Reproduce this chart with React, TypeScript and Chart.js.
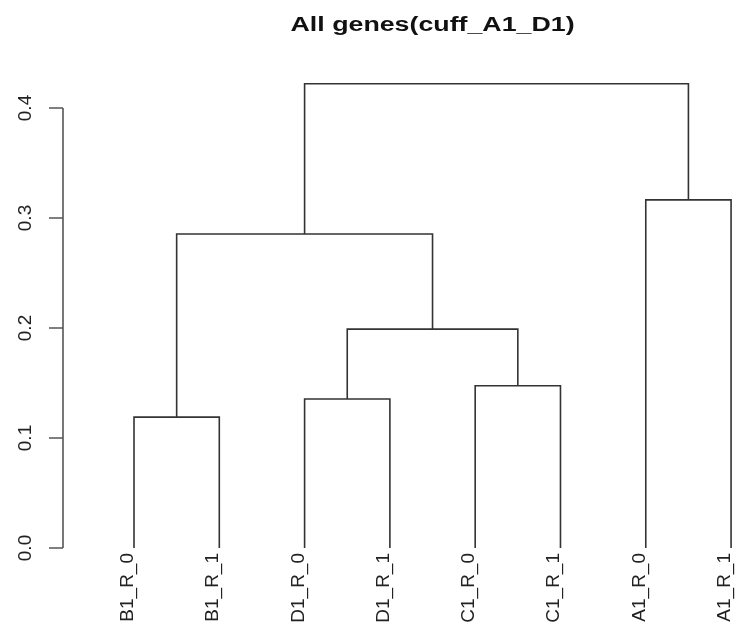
import React, { useEffect, useRef } from "react";
import { Chart, registerables } from "chart.js";

Chart.register(...registerables);

// Leaf order along the bottom of the dendrogram
const leafLabels = ["B1_R_0", "B1_R_1", "D1_R_0", "D1_R_1", "C1_R_0", "C1_R_1", "A1_R_0", "A1_R_1"];

// Merge steps, hclust style: negative = leaf index (1-based), positive = earlier merge step
const mergeLeft = [-1, -3, -5, 2, 1, -7, 5];
const mergeRight = [-2, -4, -6, 3, 4, -8, 6];
const mergeHeight = [0.119, 0.1355, 0.1475, 0.199, 0.2855, 0.3165, 0.422];

// Height axis ticks
const yTicks = [0, 0.1, 0.2, 0.3, 0.4];
const yTickLabels = ["0.0", "0.1", "0.2", "0.3", "0.4"];

const chartTitle = "All genes(cuff_A1_D1)";

const FONT = "'Liberation Sans', Arial, Helvetica, sans-serif";

type Node = { x: number; h: number };

function nodeOf(ref: number, built: Node[]): Node {
  if (ref < 0) return { x: -ref, h: 0 };
  return built[ref - 1];
}

function buildSegments() {
  const built: Node[] = [];
  const datasets: any[] = [];
  for (let i = 0; i < mergeHeight.length; i++) {
    const l = nodeOf(mergeLeft[i], built);
    const r = nodeOf(mergeRight[i], built);
    const h = mergeHeight[i];
    built.push({ x: (l.x + r.x) / 2, h });
    datasets.push({
      data: [
        { x: l.x, y: l.h },
        { x: l.x, y: h },
        { x: r.x, y: h },
        { x: r.x, y: r.h },
      ],
      showLine: true,
      borderColor: "#333333",
      borderWidth: 1.6,
      pointRadius: 0,
      pointHoverRadius: 0,
      tension: 0,
      fill: false,
    });
  }
  return datasets;
}

const annotate = {
  id: "dendroAnnotate",
  afterDraw(chart: any) {
    const ctx = chart.ctx as CanvasRenderingContext2D;
    const xs = chart.scales.x;
    const ys = chart.scales.y;
    const axisX = chart.chartArea.left;

    ctx.save();
    // Height axis: line spans first to last tick, ticks point outward
    ctx.strokeStyle = "#555555";
    ctx.lineWidth = 1.6;
    ctx.beginPath();
    ctx.moveTo(axisX, ys.getPixelForValue(yTicks[0]));
    ctx.lineTo(axisX, ys.getPixelForValue(yTicks[yTicks.length - 1]));
    for (const t of yTicks) {
      const py = ys.getPixelForValue(t);
      ctx.moveTo(axisX, py);
      ctx.lineTo(axisX - 14, py);
    }
    ctx.stroke();

    ctx.fillStyle = "#222222";
    ctx.font = `19px ${FONT}`;
    ctx.textAlign = "center";
    ctx.textBaseline = "alphabetic";
    yTicks.forEach((t, i) => {
      const py = ys.getPixelForValue(t);
      ctx.save();
      ctx.translate(31, py);
      ctx.rotate(-Math.PI / 2);
      ctx.fillText(yTickLabels[i], 0, 0);
      ctx.restore();
    });

    // Leaf labels, reading upward, ending just below each leaf
    const labelTop = ys.getPixelForValue(0) + 5;
    ctx.textAlign = "right";
    leafLabels.forEach((lab, i) => {
      const px = xs.getPixelForValue(i + 1);
      ctx.save();
      ctx.translate(px - 1, labelTop);
      ctx.rotate(-Math.PI / 2);
      ctx.fillText(lab, 0, 0);
      ctx.restore();
    });

    // Title centred over the full plotting region
    const cx = xs.getPixelForValue((1 + leafLabels.length) / 2);
    ctx.font = `bold 20px ${FONT}`;
    ctx.fillStyle = "#111111";
    const w = ctx.measureText(chartTitle).width;
    const sx = 284 / w;
    ctx.save();
    ctx.translate(cx, 31);
    ctx.scale(sx, 1);
    ctx.textAlign = "center";
    ctx.fillText(chartTitle, 0, 0);
    ctx.restore();

    ctx.restore();
  },
};

export default function App() {
  const ref = useRef<HTMLCanvasElement | null>(null);

  useEffect(() => {
    if (!ref.current) return;
    const chart = new Chart(ref.current, {
      type: "scatter",
      data: { datasets: buildSegments() },
      options: {
        animation: false,
        responsive: false,
        devicePixelRatio: 1,
        events: [],
        layout: { padding: { top: 65, bottom: 58, left: 0, right: 0 } },
        plugins: {
          legend: { display: false },
          tooltip: { enabled: false },
          title: { display: false },
        },
        scales: {
          x: {
            type: "linear",
            display: false,
            min: 0.1675,
            max: 8.093,
          },
          y: {
            type: "linear",
            min: -0.01727,
            max: 0.43909,
            grid: { display: false },
            border: { display: false },
            ticks: { display: false },
            afterFit: (scale: any) => {
              scale.width = 63;
            },
          },
        },
      },
      plugins: [annotate],
    });
    return () => chart.destroy();
  }, []);

  return (
    <div style={{ position: "fixed", left: 0, top: 0, width: 739, height: 625, background: "#ffffff" }}>
      <canvas ref={ref} width={739} height={625} style={{ display: "block" }} />
    </div>
  );
}
